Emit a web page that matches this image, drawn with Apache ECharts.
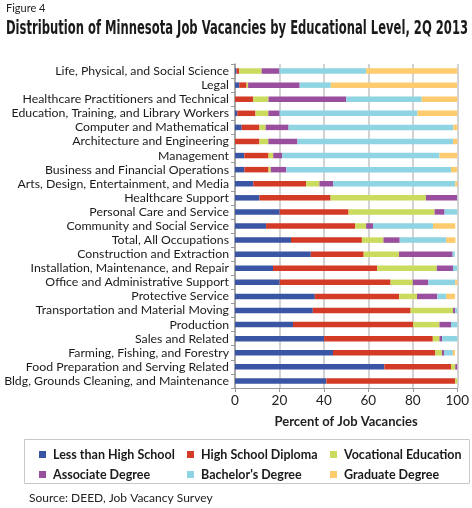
<!DOCTYPE html>
<html><head><meta charset="utf-8">
<script src="https://cdn.jsdelivr.net/npm/echarts@6/dist/echarts.min.js"></script>
<style>html,body{margin:0;padding:0;background:#fff}#c{width:472px;height:508px}</style>
</head><body><div id="c"></div>
<script>
const categories = [
  "Life, Physical, and Social Science",
  "Legal",
  "Healthcare Practitioners and Technical",
  "Education, Training, and Library Workers",
  "Computer and Mathematical",
  "Architecture and Engineering",
  "Management",
  "Business and Financial Operations",
  "Arts, Design, Entertainment, and Media",
  "Healthcare Support",
  "Personal Care and Service",
  "Community and Social Service",
  "Total, All Occupations",
  "Construction and Extraction",
  "Installation, Maintenance, and Repair",
  "Office and Administrative Support",
  "Protective Service",
  "Transportation and Material Moving",
  "Production",
  "Sales and Related",
  "Farming, Fishing, and Forestry",
  "Food Preparation and Serving Related",
  "Bldg, Grounds Cleaning, and Maintenance"
];
const lessThanHighSchool = [0.7, 1.9, 0, 1, 3, 0, 4.2, 4.2, 8.2, 11, 20.1, 14, 25.2, 34.1, 17.1, 20.1, 35.9, 35, 26.1, 40.1, 44.1, 67.2, 41.1];
const highSchoolDiploma  = [1.2, 3.3, 8.2, 8.2, 8, 11, 10.9, 10.9, 23.8, 32, 31, 40.1, 31.9, 23.8, 46.9, 49.9, 38, 44, 54.1, 48.9, 46, 30, 58];
const vocationalEducation = [10.1, 0.7, 6.9, 5.8, 2.8, 4, 2.1, 1, 6, 42.9, 38.7, 4.9, 9.7, 15.9, 26.8, 10, 8, 19.1, 11.8, 3, 3, 1.9, 0.9];
const associateDegree    = [8, 23.2, 34.9, 5.1, 10.3, 13.1, 4, 7, 6.1, 14, 4.5, 3.1, 7.3, 24.1, 7.3, 7, 9.1, 1, 5.2, 1.2, 1, 0.9, 0];
const bachelorsDegree    = [39, 14, 34, 62, 74.1, 70, 70.8, 74.1, 55, 0.1, 5.7, 27, 20.9, 1, 1.8, 12.1, 4, 0.9, 2.8, 6.9, 3.9, 0, 0];
const graduateDegree     = [41, 56.8, 16, 17.9, 1.8, 1.9, 8, 2.8, 0.9, 0, 0, 10, 4.2, 0, 0, 0.9, 4, 0, 0, 0, 1, 0, 0];
const seriesNames = ["Less than High School", "High School Diploma", "Vocational Education", "Associate Degree", "Bachelor's Degree", "Graduate Degree"];
const seriesData = [lessThanHighSchool, highSchoolDiploma, vocationalEducation, associateDegree, bachelorsDegree, graduateDegree];
const xTicks = [0, 20, 40, 60, 80, 100];
const titleText = "Distribution of Minnesota Job Vacancies by Educational Level, 2Q 2013";

const colors = ["#3B55A5", "#D33B26", "#CADB5E", "#9A4E9E", "#8ED4E2", "#FECB6E"];
const labelFont = "Lato, 'Noto Sans', sans-serif";

const cv = document.createElement('canvas').getContext('2d');
const titleFont = "bold 20px 'Liberation Sans Narrow', 'DejaVu Sans Condensed', sans-serif";
cv.font = titleFont;
const tw = cv.measureText(titleText).width;
const titleScale = 462 / tw;

const chart = echarts.init(document.getElementById('c'), null, {renderer: 'canvas'});
const legendCol = (names, left) => ({
  orient: 'vertical', left: left, top: 443, itemWidth: 7, itemHeight: 7, itemGap: 7,
  icon: 'rect', selectedMode: false, data: names,
  textStyle: {fontFamily: labelFont, fontWeight: 'bold', fontSize: 12.5, color: '#1a1a1a', padding: [0,0,0,2]}
});
chart.setOption({
  animation: false,
  color: colors,
  grid: {left: 235, right: 13, top: 64, bottom: 120, containLabel: false},
  xAxis: {
    type: 'value', min: xTicks[0], max: xTicks[xTicks.length - 1], interval: 20,
    axisLine: {show: true, lineStyle: {color: '#999', width: 1}},
    axisTick: {show: true, length: 4, lineStyle: {color: '#999'}},
    splitLine: {show: true, lineStyle: {color: '#c4c4c4', width: 1.5}},
    axisLabel: {fontFamily: labelFont, fontSize: 13.5, color: '#222', margin: 6},
    name: 'Percent of Job Vacancies', nameLocation: 'middle', nameGap: 27,
    nameTextStyle: {fontFamily: labelFont, fontWeight: 'bold', fontSize: 13, color: '#222'}
  },
  yAxis: {
    type: 'category', data: categories, inverse: true,
    axisLine: {show: true, lineStyle: {color: '#999', width: 1.5}},
    axisTick: {show: true, length: 4, interval: 0, lineStyle: {color: '#999'}},
    axisLabel: {fontFamily: labelFont, fontSize: 12.3, color: '#1a1a1a', margin: 6, interval: 0}
  },
  legend: [
    legendCol([seriesNames[0], seriesNames[3]], 34),
    legendCol([seriesNames[1], seriesNames[4]], 182),
    legendCol([seriesNames[2], seriesNames[5]], 325)
  ],
  series: seriesNames.map((n, i) => ({
    name: n, type: 'bar', stack: 'total', data: seriesData[i], barWidth: 5.5,
    itemStyle: {color: colors[i]}
  })),
  graphic: [
    {type: 'text', left: 6, top: 3, style: {text: 'Figure 4', font: "11px Lato, 'Noto Sans', sans-serif", fill: '#222'}},
    {type: 'text', x: 6, y: 19, scaleX: titleScale, style: {text: titleText, font: titleFont, fill: '#1a1a1a'}},
    {type: 'rect', shape: {x: 24.5, y: 439.5, width: 445, height: 44}, style: {fill: 'none', stroke: '#c8c8c8', lineWidth: 1}},
    {type: 'text', left: 29, top: 492, style: {text: 'Source: DEED, Job Vacancy Survey', font: "12px Lato, 'Noto Sans', sans-serif", fill: '#222'}}
  ]
});
</script></body></html>
